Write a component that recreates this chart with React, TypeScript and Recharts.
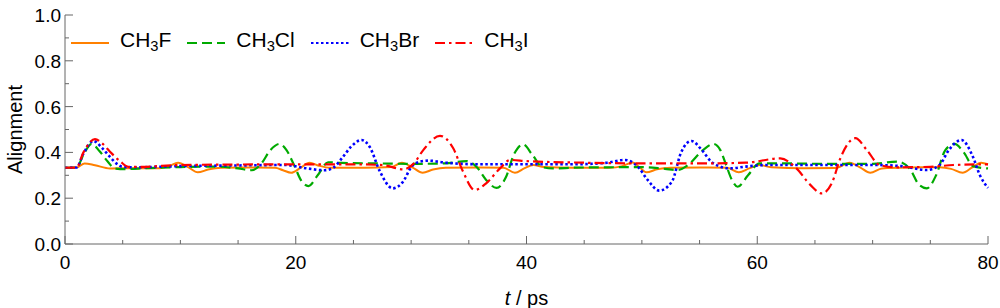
import { LineChart, Line, XAxis, YAxis } from "recharts"

// time (ps) / alignment values, one pair of arrays per molecule
const timeF = [0, 1.0, 1.7, 2.6, 3.9, 6, 8.2, 9.0, 9.8, 10.7, 11.5, 12.4, 13.5, 16, 18.2, 18.9, 19.6, 20.4, 21.2, 22.0, 23, 26, 28.3, 29.2, 30.1, 31.0, 31.9, 33, 36, 38.0, 39.0, 39.8, 40.6, 41.5, 44, 47.2, 48.3, 49.2, 49.8, 50.4, 51.3, 52.5, 55, 57.4, 58.4, 59.3, 60.2, 61.2, 64, 66.8, 68.0, 68.9, 69.8, 70.8, 73, 75.8, 76.8, 77.8, 78.6, 79.4, 80]
const alignF = [0.333, 0.334, 0.352, 0.344, 0.33, 0.331, 0.331, 0.34, 0.355, 0.335, 0.313, 0.325, 0.333, 0.334, 0.333, 0.322, 0.311, 0.332, 0.355, 0.342, 0.333, 0.333, 0.336, 0.355, 0.335, 0.311, 0.325, 0.333, 0.334, 0.333, 0.311, 0.33, 0.345, 0.336, 0.333, 0.333, 0.34, 0.356, 0.335, 0.313, 0.326, 0.333, 0.334, 0.333, 0.313, 0.33, 0.345, 0.335, 0.331, 0.332, 0.355, 0.335, 0.311, 0.33, 0.334, 0.335, 0.328, 0.311, 0.333, 0.355, 0.348]

const timeCl = [0, 1.0, 1.6, 2.3, 3.0, 3.7, 4.3, 5.2, 7, 10, 13, 15, 16.2, 17.0, 17.8, 18.6, 19.2, 19.85, 20.5, 21.1, 21.9, 22.8, 24, 27, 30, 33, 34.8, 35.7, 36.5, 37.4, 38.2, 38.9, 39.7, 40.5, 41.4, 42.3, 44, 47, 50, 52, 53.1, 54.0, 55.3, 56.2, 56.8, 57.3, 57.8, 58.3, 59.2, 60.2, 62, 66, 70, 72.1, 73.2, 74.0, 74.7, 75.5, 76.3, 77.1, 77.9, 78.7, 80]
const alignCl = [0.333, 0.334, 0.39, 0.437, 0.405, 0.36, 0.33, 0.327, 0.331, 0.336, 0.338, 0.33, 0.322, 0.35, 0.41, 0.437, 0.41, 0.345, 0.275, 0.253, 0.3, 0.357, 0.354, 0.352, 0.35, 0.352, 0.362, 0.335, 0.28, 0.245, 0.29, 0.39, 0.435, 0.39, 0.335, 0.33, 0.333, 0.335, 0.336, 0.328, 0.323, 0.345, 0.41, 0.437, 0.41, 0.345, 0.28, 0.25, 0.3, 0.352, 0.352, 0.35, 0.35, 0.36, 0.33, 0.26, 0.243, 0.3, 0.41, 0.437, 0.4, 0.34, 0.33]

const timeBr = [0, 1.0, 1.6, 2.45, 3.2, 3.9, 4.5, 5.0, 6, 10, 15, 19, 21, 22.5, 23.3, 24.0, 24.8, 25.7, 26.4, 27.3, 28.4, 29.3, 30.0, 30.8, 31.5, 33, 36, 40, 44, 47, 48.5, 49.7, 50.5, 51.5, 52.6, 53.4, 54.3, 55.2, 56.0, 56.8, 57.6, 59, 61, 65, 70, 72.5, 74.7, 75.8, 76.6, 77.7, 78.7, 79.3, 80]
const alignBr = [0.333, 0.334, 0.395, 0.45, 0.42, 0.38, 0.35, 0.337, 0.335, 0.34, 0.343, 0.345, 0.33, 0.322, 0.335, 0.374, 0.425, 0.454, 0.425, 0.316, 0.243, 0.272, 0.335, 0.36, 0.364, 0.355, 0.348, 0.348, 0.348, 0.355, 0.367, 0.335, 0.28, 0.233, 0.272, 0.4, 0.45, 0.41, 0.36, 0.338, 0.33, 0.338, 0.345, 0.345, 0.345, 0.34, 0.323, 0.345, 0.41, 0.454, 0.38, 0.3, 0.245]

const timeI = [0, 1.0, 1.6, 2.6, 3.2, 3.9, 4.8, 5.5, 6.5, 10, 15, 20, 25, 27.5, 29.3, 30.2, 31.05, 32.5, 33.65, 34.5, 35.5, 36.5, 37.7, 38.6, 40, 45, 50, 55, 59, 62.0, 63.4, 64.6, 65.6, 66.5, 67.2, 68.5, 69.5, 70.6, 72, 75, 77, 80]
const alignI = [0.333, 0.334, 0.4, 0.458, 0.44, 0.403, 0.36, 0.337, 0.337, 0.345, 0.347, 0.348, 0.348, 0.345, 0.326, 0.35, 0.41, 0.472, 0.418, 0.316, 0.236, 0.265, 0.33, 0.367, 0.362, 0.355, 0.352, 0.352, 0.355, 0.374, 0.33, 0.258, 0.221, 0.27, 0.374, 0.462, 0.41, 0.345, 0.335, 0.337, 0.345, 0.348]

const xTicks = [0, 5, 10, 15, 20, 25, 30, 35, 40, 45, 50, 55, 60, 65, 70, 75, 80]
const yTicks = [0, 0.1, 0.2, 0.3, 0.4, 0.5, 0.6, 0.7, 0.8, 0.9, 1.0]

const toPoints = (ts: number[], vs: number[]) => ts.map((t, i) => ({ t, v: vs[i] }))

const series = [
  { name: "F", data: toPoints(timeF, alignF), color: "#ff8000", dash: undefined, width: 2 },
  { name: "Cl", data: toPoints(timeCl, alignCl), color: "#00aa00", dash: "10 5", width: 2.2 },
  { name: "Br", data: toPoints(timeBr, alignBr), color: "#0000ff", dash: "2.5 2.5", width: 2.6 },
  { name: "I", data: toPoints(timeI, alignI), color: "#ff0000", dash: "10 4 2.5 4", width: 2.2 },
]

const FONT = "'Liberation Sans', Arial, sans-serif"
const FRAME = "#666"

const isMajorX = (v: number) => v % 20 === 0
const isMajorY = (v: number) => Math.round(v * 10) % 2 === 0

const BottomTick = (props: any) => {
  const { x, y, payload } = props
  const major = isMajorX(payload.value)
  return (
    <g>
      <line x1={x} y1={y} x2={x} y2={y - (major ? 8 : 4)} stroke={FRAME} />
      {major && (
        <text x={x} y={y + 25} textAnchor="middle" fontSize={19} fontFamily={FONT} fill="#000">
          {payload.value}
        </text>
      )}
    </g>
  )
}

const TopTick = (props: any) => {
  const { x, y, payload } = props
  const major = isMajorX(payload.value)
  return <line x1={x} y1={y} x2={x} y2={y + (major ? 8 : 4)} stroke={FRAME} />
}

const LeftTick = (props: any) => {
  const { x, y, payload } = props
  const major = isMajorY(payload.value)
  return (
    <g>
      <line x1={x} y1={y} x2={x + (major ? 8 : 4)} y2={y} stroke={FRAME} />
      {major && (
        <text x={x - 4} y={y + 7} textAnchor="end" fontSize={19} fontFamily={FONT} fill="#000">
          {payload.value.toFixed(1)}
        </text>
      )}
    </g>
  )
}

const RightTick = (props: any) => {
  const { x, y, payload } = props
  const major = isMajorY(payload.value)
  return <line x1={x} y1={y} x2={x - (major ? 8 : 4)} y2={y} stroke={FRAME} />
}

function LegendBox() {
  return (
    <div
      style={{
        position: "absolute",
        left: 71,
        top: 28,
        display: "flex",
        alignItems: "center",
        fontFamily: FONT,
        fontSize: 21,
        color: "#000",
        lineHeight: "24px",
      }}
    >
      {series.map((s) => (
        <div key={s.name} style={{ display: "flex", alignItems: "center", marginRight: 16 }}>
          <svg width={38} height={10}>
            <line x1={0} y1={5} x2={38} y2={5} stroke={s.color} strokeWidth={2} strokeDasharray={s.dash} />
          </svg>
          <span style={{ marginLeft: 11 }}>
            CH<sub style={{ fontSize: "70%", verticalAlign: "-0.25em" }}>3</sub>
            {s.name}
          </span>
        </div>
      ))}
    </div>
  )
}

export default function App() {
  return (
    <div style={{ position: "absolute", left: 0, top: 0, width: 1000, height: 308, background: "#fff" }}>
      <LineChart width={1000} height={308} margin={{ top: 15, right: 12, bottom: 10, left: 8 }}>
        <XAxis
          xAxisId="main"
          dataKey="t"
          type="number"
          domain={[0, 80]}
          ticks={xTicks}
          interval={0}
          height={54}
          tickSize={0}
          tickMargin={0}
          tickLine={false}
          axisLine={{ stroke: FRAME }}
          tick={BottomTick}
          label={{
            content: (p: any) => {
              const vb = p.viewBox
              return (
                <text x={vb.x + vb.width / 2} y={vb.y + 61} textAnchor="middle" fontSize={20} fontFamily={FONT} fill="#000">
                  <tspan fontStyle="italic">t</tspan> / ps
                </text>
              )
            },
          }}
        />
        <XAxis
          xAxisId="top"
          orientation="top"
          type="number"
          domain={[0, 80]}
          ticks={xTicks}
          interval={0}
          height={0}
          tickSize={0}
          tickMargin={0}
          tickLine={false}
          axisLine={{ stroke: FRAME }}
          tick={TopTick}
        />
        <YAxis
          yAxisId="main"
          type="number"
          domain={[0, 1]}
          ticks={yTicks}
          interval={0}
          width={57}
          tickSize={0}
          tickMargin={0}
          tickLine={false}
          axisLine={{ stroke: FRAME }}
          tick={LeftTick}
          label={{
            content: (p: any) => {
              const vb = p.viewBox
              const cy = vb.y + vb.height / 2
              return (
                <text x={15} y={cy} transform={`rotate(-90 15 ${cy})`} textAnchor="middle" dominantBaseline="central" fontSize={20} fontFamily={FONT} fill="#000">
                  Alignment
                </text>
              )
            },
          }}
        />
        <YAxis
          yAxisId="right"
          orientation="right"
          type="number"
          domain={[0, 1]}
          ticks={yTicks}
          interval={0}
          width={0}
          tickSize={0}
          tickMargin={0}
          tickLine={false}
          axisLine={{ stroke: FRAME }}
          tick={RightTick}
        />
        {series.map((s) => (
          <Line
            key={s.name}
            xAxisId="main"
            yAxisId="main"
            data={s.data}
            dataKey="v"
            type="monotone"
            stroke={s.color}
            strokeWidth={s.width}
            strokeDasharray={s.dash}
            dot={false}
            activeDot={false}
            isAnimationActive={false}
          />
        ))}
      </LineChart>
      <LegendBox />
    </div>
  )
}
